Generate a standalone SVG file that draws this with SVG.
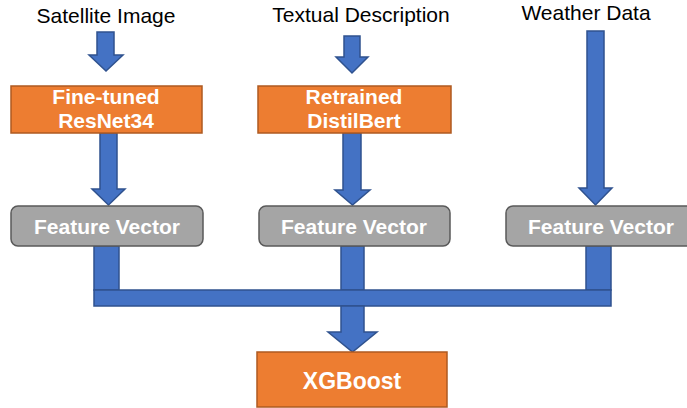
<svg xmlns="http://www.w3.org/2000/svg" width="687" height="408" viewBox="0 0 687 408">
<style>
.lbl{font-family:"Liberation Sans",Arial,sans-serif;font-size:21px;fill:#000;text-anchor:middle}
.bt{font-family:"Liberation Sans",Arial,sans-serif;font-weight:bold;font-size:21px;fill:#fff;text-anchor:middle}
.org{fill:#ED7D31;stroke:#AE5A21;stroke-width:1.5}
.gry{fill:#A5A5A5;stroke:#595959;stroke-width:1.5}
.blu{fill:#4472C4;stroke:#2F528F;stroke-width:1.5;stroke-linejoin:miter}
</style>
<rect width="687" height="408" fill="#fff"/>
<g id="labels">
<text class="lbl" x="106" y="23">Satellite Image</text>
<text class="lbl" x="361" y="22">Textual Description</text>
<text class="lbl" x="586" y="20">Weather Data</text>
</g>
<g id="connectors">
<polygon class="blu" points="97,32 114,32 114,55 123,55 106,71 89,55 97,55"/>
<polygon class="blu" points="100,133 117,133 117,189 125,189 108.5,205 92,189 100,189"/>
<polygon class="blu" points="344,36 360,36 360,57 368,57 352,73 336,57 344,57"/>
<polygon class="blu" points="343,133 361,133 361,190 370,190 352.5,205 335,190 343,190"/>
<polygon class="blu" points="587,31 604,31 604,188 612,188 595.5,205 579,188 587,188"/>
<rect class="blu" x="94" y="246" width="25" height="44"/>
<rect class="blu" x="341" y="246" width="23" height="44"/>
<rect class="blu" x="586" y="246" width="25" height="44"/>
<rect class="blu" x="94" y="290" width="517" height="16"/>
<polygon class="blu" points="341,306 364,306 364,332 377,332 352.5,352 328,332 341,332"/>
</g>
<g id="resnet">
<rect class="org" x="11" y="86" width="191" height="47"/>
<text class="bt" x="106" y="104">Fine-tuned</text>
<text class="bt" x="106" y="128">ResNet34</text>
</g>
<g id="distilbert">
<rect class="org" x="258" y="86" width="193" height="47"/>
<text class="bt" x="354" y="104">Retrained</text>
<text class="bt" x="354" y="128">DistilBert</text>
</g>
<g id="fv1">
<rect class="gry" x="11" y="206" width="192" height="40" rx="7"/>
<text class="bt" x="107" y="234">Feature Vector</text>
</g>
<g id="fv2">
<rect class="gry" x="259" y="206" width="191" height="40" rx="7"/>
<text class="bt" x="354" y="234">Feature Vector</text>
</g>
<g id="fv3">
<rect class="gry" x="506" y="206" width="192" height="40" rx="7"/>
<text class="bt" x="601" y="234">Feature Vector</text>
</g>
<g id="xgboost">
<rect class="org" x="257" y="352" width="190" height="55"/>
<text class="bt" x="352" y="389" style="font-size:23px">XGBoost</text>
</g>
</svg>
